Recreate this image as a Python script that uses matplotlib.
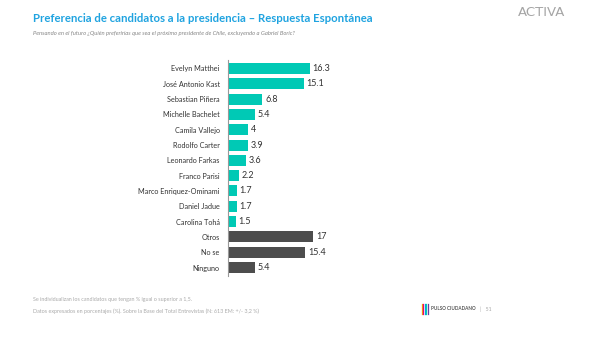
import numpy as np
from matplotlib import pyplot as plt

plt.rcParams['font.family'] = ['Lato', 'DejaVu Sans']

# datos
candidatos = ["Evelyn Matthei", "José Antonio Kast", "Sebastian Piñera", "Michelle Bachelet",
              "Camila Vallejo", "Rodolfo Carter", "Leonardo Farkas", "Franco Parisi",
              "Marco Enriquez-Ominami", "Daniel Jadue", "Carolina Tohá",
              "Otros", "No se", "Ninguno"]
valores = [16.3, 15.1, 6.8, 5.4, 4, 3.9, 3.6, 2.2, 1.7, 1.7, 1.5, 17, 15.4, 5.4]
etiquetas = ["16.3", "15.1", "6.8", "5.4", "4", "3.9", "3.6", "2.2", "1.7", "1.7", "1.5",
             "17", "15.4", "5.4"]
n_candidatos = 11

W, H = 614, 344
fig = plt.figure(figsize=(W / 100, H / 100), dpi=100)
fig.patch.set_facecolor("white")

# eje: x de 228 a 428 px, y de 60 a 276 px
ax = fig.add_axes([228 / W, 1 - 276 / H, 200 / W, 216 / H])
y = np.arange(len(candidatos))
colores = ["#00C9B5"] * n_candidatos + ["#4D4D4D"] * (len(candidatos) - n_candidatos)
ax.barh(y, valores, height=0.72, color=colores)
ax.set_ylim(len(candidatos) - 0.45, -0.55)
ax.set_xlim(0, 40)
ax.set_yticks(y)
ax.set_yticklabels(candidatos, fontsize=5.2, color="#333333")
ax.tick_params(axis="y", length=0, pad=6)
ax.set_xticks([])
for s in ["top", "right", "bottom"]:
    ax.spines[s].set_visible(False)
ax.spines["left"].set_color("#999999")
ax.spines["left"].set_linewidth(0.8)
for yi, v, t in zip(y, valores, etiquetas):
    ax.text(v + 0.6, yi, t, va="center", ha="left", fontsize=6.5, color="#333333")

# textos
fig.text(33 / W, 1 - 19 / H, "Preferencia de candidatos a la presidencia – Respuesta Espontánea",
         fontsize=8.2, fontweight="bold", color="#1FA3E0", va="center", ha="left")
fig.text(33 / W, 1 - 33 / H,
         "Pensando en el futuro ¿Quién preferirías que sea el próximo presidente de Chile, excluyendo a Gabriel Boric?",
         fontsize=4.2, style="italic", color="#888888", va="center", ha="left")
fig.text(542 / W, 1 - 12 / H, "ACTIVA", fontsize=9.5, family="DejaVu Sans",
         color="#A5A5A5", va="center", ha="center")
fig.text(33 / W, 1 - 299 / H,
         "Se individualizan los candidatos que tengan % igual o superior a 1,5.",
         fontsize=3.9, color="#AAAAAA", va="center", ha="left")
fig.text(33 / W, 1 - 311 / H,
         "Datos expresados en porcentajes (%). Sobre la Base del Total Entrevistas (N: 613 EM: +/- 3,2 %)",
         fontsize=3.9, color="#AAAAAA", va="center", ha="left")

# logo pulso ciudadano
logo_colores = ["#F4A300", "#E5007E", "#00A3E0", "#00C9B5", "#6A3FA0"]
for i, c in enumerate(logo_colores):
    fig.add_artist(plt.Line2D([(422 + i * 1.4) / W] * 2, [1 - 304 / H, 1 - 314 / H],
                              color=c, linewidth=0.9))
fig.text(431 / W, 1 - 309 / H, "PULSO CIUDADANO", fontsize=3.3, fontweight="bold",
         color="#555555", va="center", ha="left")
fig.text(480 / W, 1 - 309 / H, "|   51", fontsize=3.8, color="#AAAAAA", va="center", ha="left")

fig.savefig("out.png", dpi=100)
